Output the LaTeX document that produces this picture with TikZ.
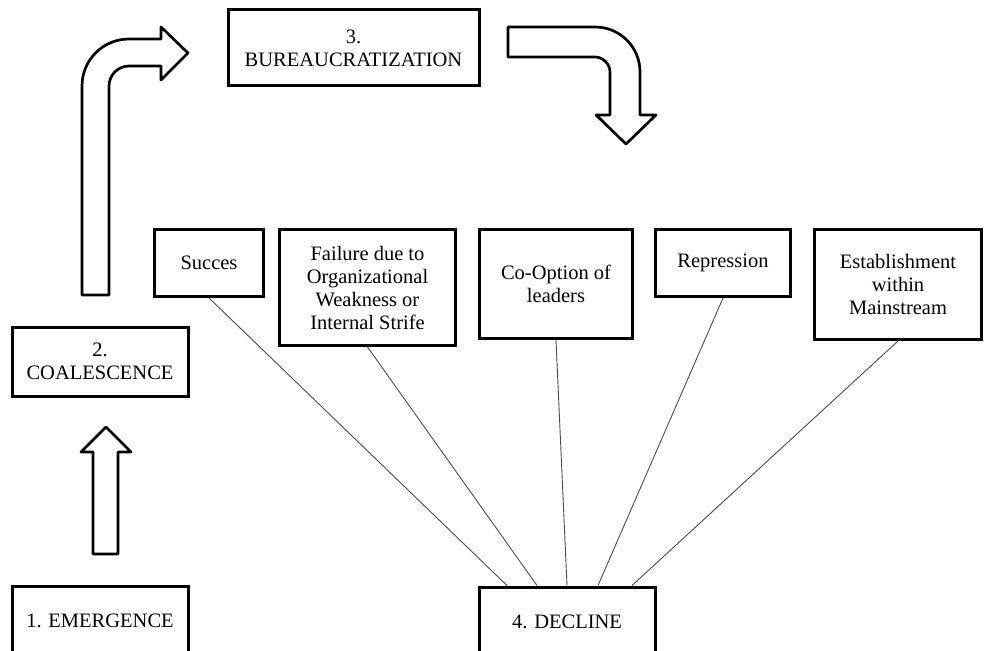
\documentclass[tikz,border=0pt]{standalone}
\usepackage{fontspec}
\setmainfont{Liberation Serif}
\usetikzlibrary{positioning}

\begin{document}
\begin{tikzpicture}[
    x=1pt, y=-1pt,
    stage/.style={draw, line width=3pt, minimum width=176pt, inner sep=0pt, align=center, font=\fontsize{20.5}{23}\selectfont},
    cause/.style={stage, anchor=north west},
    every edge/.style={draw=black!70, line width=0.9pt},
    blockarrow/.style={draw, line width=2.7pt, line join=round, fill=white}
]
    \useasboundingbox (0,0) rectangle (984,650);

    % the four stages
    \node[stage, minimum height=70pt] (Emg) at (100,621) {1. EMERGENCE};
    \node[stage, minimum height=69pt] (Coal) at (100,361.5) {2.\\COALESCENCE};
    \node[stage, minimum width=251pt, minimum height=76pt] (Bur) at (353.5,48) {3.\\BUREAUCRATIZATION};
    \node[stage, minimum height=70pt] (Dec) at (567,622) {4. DECLINE};

    % ways of decline
    \node[cause, minimum width=109pt, minimum height=67pt] (Suc) at (153,228) {Succes};
    \node[cause, right=13pt of Suc.north east, anchor=north west, minimum width=176pt, minimum height=116pt] (Fail) {Failure due to\\Organizational\\Weakness or\\Internal Strife};
    \node[cause, right=21pt of Fail.north east, anchor=north west, minimum width=153pt, minimum height=109pt] (Coop) {Co-Option of\\leaders};
    \node[cause, right=20pt of Coop.north east, anchor=north west, minimum width=135pt, minimum height=67pt] (Rep) {Repression};
    \node[cause, right=21pt of Rep.north east, anchor=north west, minimum width=167pt, minimum height=110pt] (Est) {Establishment\\within\\Mainstream};

    \path (Suc.south) edge ([xshift=-60pt]Dec.north)
          (Fail.south) edge ([xshift=-30pt]Dec.north)
          (Coop.south) edge (Dec.north)
          (Rep.south) edge ([xshift=31pt]Dec.north)
          (Est.south) edge ([xshift=65pt]Dec.north);

    % block arrows
    \draw[blockarrow] (93,554) -- (93,452) -- (81,452) -- (106,427) -- (131,452) -- (118,452) -- (118,554) -- cycle;
    \draw[blockarrow] (82,295) -- (82,86) .. controls (82,60) and (103,39) .. (129,39) -- (161,39) -- (161,27) -- (188,53)
        -- (161,80) -- (161,66) -- (129,66) .. controls (118,66) and (109,75) .. (109,86) -- (109,295) -- cycle;
    \draw[blockarrow] (508,27) -- (595,27) .. controls (620,27) and (640,47) .. (640,72) -- (640,115) -- (656,115)
        -- (626,144) -- (596,115) -- (610,115) -- (610,72) .. controls (610,64) and (603,57) .. (595,57) -- (508,57) -- cycle;
\end{tikzpicture}
\end{document}
